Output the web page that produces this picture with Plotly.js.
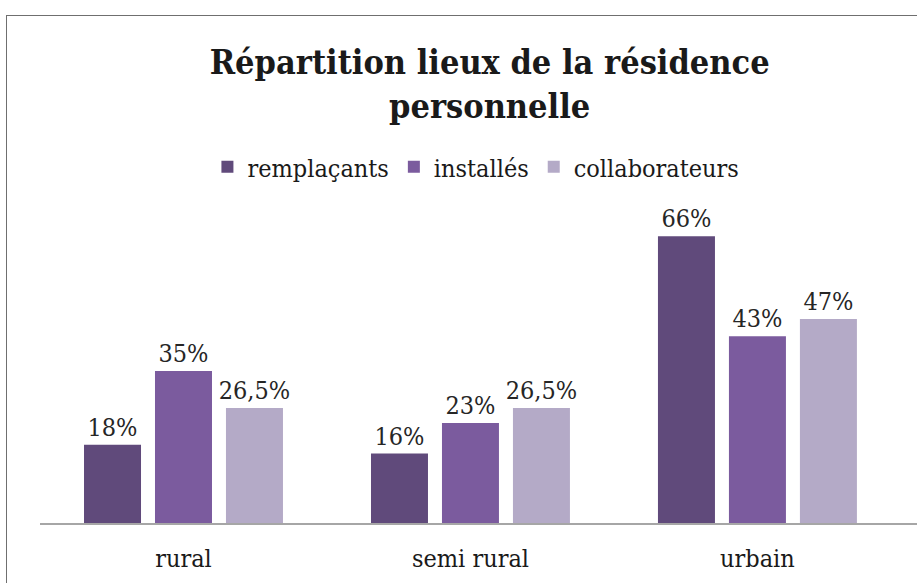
<!DOCTYPE html>
<html>
<head>
<meta charset="utf-8">
<script src="https://cdn.plot.ly/plotly-3.0.1.min.js"></script>
<style>
  html, body { margin: 0; padding: 0; background: #fff; }
  #wrap { position: relative; width: 917px; height: 583px; overflow: hidden; }
  #chart { position: absolute; left: 0; top: 0; width: 917px; height: 583px; }
  #frame { position: absolute; left: 6px; top: 15px; width: 940px; height: 620px;
           border: 1.5px solid #6f6f6f; pointer-events: none; box-sizing: border-box; }
</style>
</head>
<body>
<div id="wrap">
  <div id="chart"></div>
  <div id="frame"></div>
</div>
<script>
const categories = ["rural", "semi rural", "urbain"];
const seriesNames = ["remplaçants", "installés", "collaborateurs"];
const remplacants = [18, 16, 66];
const installes = [35, 23, 43];
const collaborateurs = [26.5, 26.5, 47];
const labelsRemplacants = ["18%", "16%", "66%"];
const labelsInstalles = ["35%", "23%", "43%"];
const labelsCollaborateurs = ["26,5%", "26,5%", "47%"];
const colors = ["#604A7B", "#7B5B9E", "#B4AAC7"];

const FONT = '"DejaVu Serif Condensed", "DejaVu Serif", serif';
const values = [remplacants, installes, collaborateurs];
const labels = [labelsRemplacants, labelsInstalles, labelsCollaborateurs];

const data = values.map((v, i) => ({
  type: 'bar',
  name: seriesNames[i],
  x: categories,
  y: v,
  text: labels[i],
  textposition: 'outside',
  constraintext: 'none',
  textfont: { family: FONT, size: 25, color: '#262626' },
  cliponaxis: false,
  marker: { color: colors[i] },
  hoverinfo: 'none'
}));

const layout = {
  width: 917,
  height: 583,
  margin: { l: 40, r: 0, t: 219, b: 60 },
  paper_bgcolor: '#ffffff',
  plot_bgcolor: '#ffffff',
  barmode: 'group',
  bargap: 0.258,
  bargroupgap: 0.197,
  showlegend: true,
  title: {
    text: '<b>Répartition lieux de la résidence<br>personnelle</b>',
    font: { family: FONT, size: 34, color: '#1a1a1a' },
    x: 0.534, xref: 'container', xanchor: 'center',
    y: 1 - 74 / 583, yref: 'container', yanchor: 'middle'
  },
  legend: {
    orientation: 'h',
    x: 0.519, xref: 'container', xanchor: 'center',
    y: 1 - 167 / 583, yref: 'container', yanchor: 'middle',
    font: { family: FONT, size: 25, color: '#1a1a1a' },
    traceorder: 'normal'
  },
  xaxis: {
    type: 'category',
    range: [-0.5, 2.556],
    showline: true,
    linecolor: '#a6a6a6',
    linewidth: 1.5,
    showgrid: false,
    zeroline: false,
    ticks: 'outside',
    ticklen: 12,
    tickcolor: 'rgba(0,0,0,0)',
    tickfont: { family: FONT, size: 25, color: '#1a1a1a' },
    fixedrange: true
  },
  yaxis: {
    range: [0, 70],
    visible: false,
    showgrid: false,
    zeroline: false,
    fixedrange: true
  }
};

Plotly.newPlot('chart', data, layout, { displayModeBar: false, staticPlot: true });
</script>
</body>
</html>
